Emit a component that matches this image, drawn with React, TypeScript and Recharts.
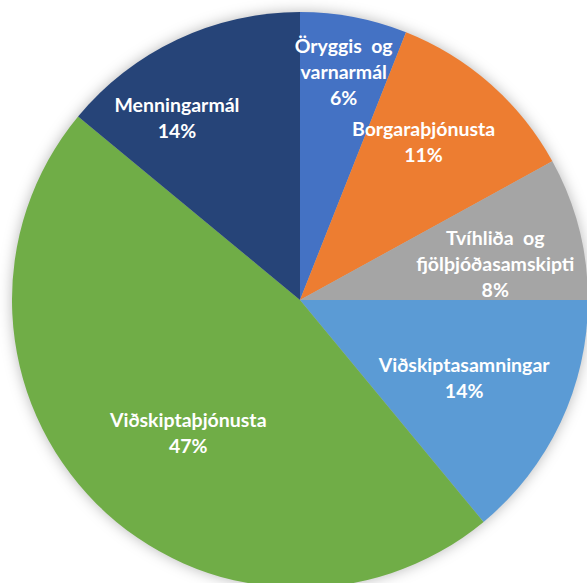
import { PieChart, Pie, Cell } from 'recharts';

const categories = [
  'Öryggis og varnarmál',
  'Borgaraþjónusta',
  'Tvíhliða og fjölþjóðasamskipti',
  'Viðskiptasamningar',
  'Viðskiptaþjónusta',
  'Menningarmál',
];
const shares = [6, 11, 8, 14, 47, 14];
const colors = ['#4472C4', '#ED7D31', '#A5A5A5', '#5B9BD5', '#70AD47', '#264478'];

// label layout like excel's best fit: [radius factor, clockwise angle shift]
const labelPlace: [number, number][] = [
  [0.81, 0],
  [0.7, -3.6],
  [0.69, 3.7],
  [0.63, 0],
  [0.6, -4.7],
  [0.766, -8.7],
];

const data = categories.map((name, i) => ({ name, value: shares[i] }));
const RAD = Math.PI / 180;

function renderLabel(props: any) {
  const { cx, cy, midAngle, outerRadius, index, name, value } = props;
  const [f, shift] = labelPlace[index];
  const a = (midAngle - shift) * RAD;
  const r = outerRadius * f;
  const x = cx + r * Math.cos(a);
  const y = cy - r * Math.sin(a);
  // excel justifies the wrapped first line, so "og" sits a bit further out
  const lines = [...String(name).split(/(?<= og) /).map((l) => l.replace(' og', '  og')), `${value}%`];
  const lh = 26;
  const y0 = y - ((lines.length - 1) * lh) / 2;
  return (
    <text
      x={x}
      y={y0}
      fill="#fff"
      textAnchor="middle"
      dominantBaseline="central"
      fontFamily="Lato, sans-serif"
      fontWeight="bold"
      fontSize={19.5}
      style={{ whiteSpace: 'pre' }}
    >
      {lines.map((l, i) => (
        <tspan key={i} x={x} y={y0 + i * lh}>
          {l}
        </tspan>
      ))}
    </text>
  );
}

export default function App() {
  return (
    <div style={{ position: 'absolute', left: 0, top: 0, width: 587, height: 583, background: '#fff', overflow: 'hidden' }}>
      <style>{`g:has(> .recharts-pie-sector) { filter: drop-shadow(0 0 7px rgba(0,0,0,0.28)); }`}</style>
      <PieChart width={587} height={583} margin={{ top: 0, right: 0, bottom: 0, left: 0 }}>
        <Pie
          data={data}
          dataKey="value"
          nameKey="name"
          cx={300}
          cy={300}
          outerRadius={288}
          startAngle={90}
          endAngle={-270}
          stroke="none"
          labelLine={false}
          label={renderLabel}
          isAnimationActive={false}
        >
          {data.map((d, i) => (
            <Cell key={d.name} fill={colors[i]} />
          ))}
        </Pie>
      </PieChart>
    </div>
  );
}
